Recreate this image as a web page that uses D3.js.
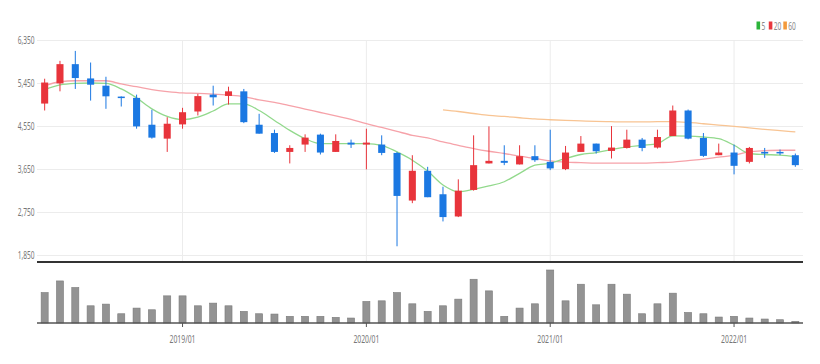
<!DOCTYPE html>
<html>
<head>
<meta charset="utf-8">
<script src="https://cdn.jsdelivr.net/npm/d3@7"></script>
<style>
  body { margin: 0; background: #fff; }
  svg { display: block; font-family: "Noto Sans", "DejaVu Sans", sans-serif; }
</style>
</head>
<body>
<svg id="chart" width="820" height="364"></svg>
<script>
// monthly candles, 2018/04 .. 2022/05
var months = ["2018/04","2018/05","2018/06","2018/07","2018/08","2018/09","2018/10","2018/11","2018/12",
  "2019/01","2019/02","2019/03","2019/04","2019/05","2019/06","2019/07","2019/08","2019/09","2019/10","2019/11","2019/12",
  "2020/01","2020/02","2020/03","2020/04","2020/05","2020/06","2020/07","2020/08","2020/09","2020/10","2020/11","2020/12",
  "2021/01","2021/02","2021/03","2021/04","2021/05","2021/06","2021/07","2021/08","2021/09","2021/10","2021/11","2021/12",
  "2022/01","2022/02","2022/03","2022/04","2022/05"];

var open  = [5030,5452,5855,5556,5404,5176,5149,4587,4296,4594,4864,5217,5190,5286,4587,4413,4018,4172,4380,4018,4213,4172,4172,3997,3000,
             3623,3132,2667,3222,3777,3831,3756,3929,3810,3658,4018,4192,4039,4101,4275,4109,4350,4885,4310,3949,4005,3810,4018,4018,3949];
var high  = [5550,5924,6132,5889,5591,5180,5217,4899,4745,4941,5232,5404,5383,5336,4816,4483,4157,4386,4400,4386,4275,4504,4365,4018,3949,
             3706,3290,3444,4365,4552,4157,4157,4157,4483,4143,4350,4192,4558,4483,4310,4483,4989,4905,4413,4192,4172,4122,4101,4067,3984];
var low   = [4885,5286,5336,5092,4920,4968,4504,4296,4018,4504,4781,4989,5009,4620,4400,3997,3777,4018,3964,4018,4101,3652,3949,2043,2945,
             3070,2563,2654,3207,3777,3741,3756,3810,3637,3637,4018,3984,3880,4088,4032,4088,4350,4282,3914,3949,3548,3777,3893,3949,3706];
var close = [5470,5855,5564,5425,5182,5149,4552,4317,4608,4849,5186,5161,5286,4641,4400,4018,4101,4317,4005,4247,4172,4213,3997,3097,3623,
             3070,2654,3207,3741,3831,3790,3929,3845,3673,4005,4192,4032,4109,4275,4101,4330,4885,4296,3935,4005,3727,4101,3984,3990,3741];
var volume = [306,423,357,173,190,93,150,133,273,273,173,200,173,117,93,90,67,67,67,57,50,217,223,306,193,
              117,173,240,440,323,67,150,193,533,223,390,183,390,290,93,193,300,106,93,60,67,50,40,33,17];

// moving averages (ma60 starts at 2020/06)
var ma5  = [5321,5419,5452,5460,5452,5336,5149,4920,4760,4693,4745,4874,5024,5024,4885,4677,4469,4296,4192,4192,4192,4192,4157,4018,3845,
            3617,3326,3186,3236,3305,3394,3569,3741,3783,3881,3964,4005,4068,4122,4157,4192,4355,4350,4330,4296,4157,3985,3964,3949,3914];
var ma20 = [5404,5487,5508,5508,5508,5440,5383,5321,5280,5252,5244,5228,5207,5176,5107,5057,4989,4916,4843,4770,4698,4608,4531,4448,4365,
            4313,4226,4157,4089,4032,3985,3929,3881,3831,3804,3794,3783,3783,3783,3783,3794,3804,3835,3866,3908,3949,4022,4043,4053,4053];
var ma60 = [null,null,null,null,null,null,null,null,null,null,null,null,null,null,null,null,null,null,null,null,null,null,null,null,null,
            null,4899,4864,4822,4781,4760,4733,4708,4691,4677,4667,4656,4650,4646,4646,4650,4650,4635,4608,4579,4552,4521,4490,4463,4438];

var priceTicks = [1850,2750,3650,4550,5450,6350];
var legendItems = [{name:"5", color:"#2bb43a"},{name:"20", color:"#e8383d"},{name:"60", color:"#f39a3c"}];

var UP = "#e8343b", DOWN = "#1b78e2";
var left = 37, right = 803;

var svg = d3.select("#chart");

var x = d3.scaleBand().domain(months).range([left, right]).paddingInner(0.54).paddingOuter(0.27);
var y = d3.scaleLinear().domain([1850, 6350]).range([255.5, 40.5]);
var yv = d3.scaleLinear().domain([0, d3.max(volume)]).range([323, 270]);

// squeeze text like the narrow font of the original
function narrow(sel, k) {
  sel.each(function() {
    var w = this.getComputedTextLength();
    this.setAttribute("textLength", w * k);
    this.setAttribute("lengthAdjust", "spacingAndGlyphs");
  });
}

// grid
svg.append("g").selectAll("line").data(priceTicks).enter().append("line")
  .attr("x1", left).attr("x2", right)
  .attr("y1", function(d){ return y(d); }).attr("y2", function(d){ return y(d); })
  .attr("stroke", "#ececec").attr("stroke-width", 1);

var janMonths = months.filter(function(m){ return m.slice(5) == "01"; });
svg.append("g").selectAll("line").data(janMonths).enter().append("line")
  .attr("x1", function(d){ return x(d) + x.bandwidth()/2; })
  .attr("x2", function(d){ return x(d) + x.bandwidth()/2; })
  .attr("y1", 40).attr("y2", 261)
  .attr("stroke", "#ececec").attr("stroke-width", 1);

// y labels
svg.append("g").selectAll("text").data(priceTicks).enter().append("text")
  .attr("x", 34.5).attr("y", function(d){ return y(d); }).attr("dy", "0.36em")
  .attr("text-anchor", "end").attr("font-size", 11).attr("fill", "#777")
  .text(function(d){ return d3.format(",")(d); })
  .call(narrow, 0.6);

// moving average lines
var idx = d3.range(months.length);
function maLine(arr) {
  return d3.line()
    .defined(function(i){ return arr[i] != null; })
    .x(function(i){ return x(months[i]) + x.bandwidth()/2; })
    .y(function(i){ return y(arr[i]); })
    .curve(d3.curveMonotoneX)(idx);
}
svg.append("path").attr("d", maLine(ma60)).attr("fill", "none").attr("stroke", "#f8c493").attr("stroke-width", 1.3);
svg.append("path").attr("d", maLine(ma20)).attr("fill", "none").attr("stroke", "#f6a2a9").attr("stroke-width", 1.3);
svg.append("path").attr("d", maLine(ma5)).attr("fill", "none").attr("stroke", "#92d98c").attr("stroke-width", 1.3);

// candles
var candle = svg.append("g").selectAll("g").data(idx).enter().append("g");
candle.append("line")
  .attr("x1", function(i){ return x(months[i]) + x.bandwidth()/2; })
  .attr("x2", function(i){ return x(months[i]) + x.bandwidth()/2; })
  .attr("y1", function(i){ return y(high[i]); })
  .attr("y2", function(i){ return y(low[i]); })
  .attr("stroke", function(i){ return close[i] >= open[i] ? UP : DOWN; })
  .attr("stroke-width", 1);
candle.append("rect")
  .attr("x", function(i){ return x(months[i]); })
  .attr("width", x.bandwidth())
  .attr("y", function(i){ return y(Math.max(open[i], close[i])); })
  .attr("height", function(i){ return Math.max(1.5, Math.abs(y(open[i]) - y(close[i]))); })
  .attr("fill", function(i){ return close[i] >= open[i] ? UP : DOWN; });

// panel separator
svg.append("line").attr("x1", left).attr("x2", right).attr("y1", 262).attr("y2", 262)
  .attr("stroke", "#333").attr("stroke-width", 2);

// volume
svg.append("g").selectAll("rect").data(idx).enter().append("rect")
  .attr("x", function(i){ return x(months[i]); })
  .attr("width", x.bandwidth())
  .attr("y", function(i){ return yv(volume[i]); })
  .attr("height", function(i){ return yv(0) - yv(volume[i]); })
  .attr("fill", "#939393").attr("stroke", "#7a7a7a").attr("stroke-width", 0.6);

var xAxis = svg.append("g").attr("transform", "translate(0,323)")
  .call(d3.axisBottom(x).tickValues(janMonths).tickSize(4).tickPadding(8));
xAxis.select(".domain").attr("stroke", "#555").attr("stroke-width", 1.5).attr("d", "M" + left + ",0H" + right);
xAxis.selectAll(".tick line").attr("stroke", "#555");
xAxis.selectAll(".tick text").attr("font-size", 11).attr("fill", "#777")
  .attr("font-family", "\"Noto Sans\", \"DejaVu Sans\", sans-serif")
  .call(narrow, 0.62);

// legend
var lg = svg.append("g");
var lx = 756.5;
legendItems.forEach(function(it) {
  lg.append("rect").attr("x", lx).attr("y", 21.5).attr("width", 3.6).attr("height", 8).attr("fill", it.color);
  var t = lg.append("text").attr("x", lx + 5).attr("y", 29.5).attr("font-size", 11).attr("fill", "#888").text(it.name);
  t.call(narrow, 0.6);
  lx += 5 + t.node().getComputedTextLength() * 0.6 + 5;
});
</script>
</body>
</html>
